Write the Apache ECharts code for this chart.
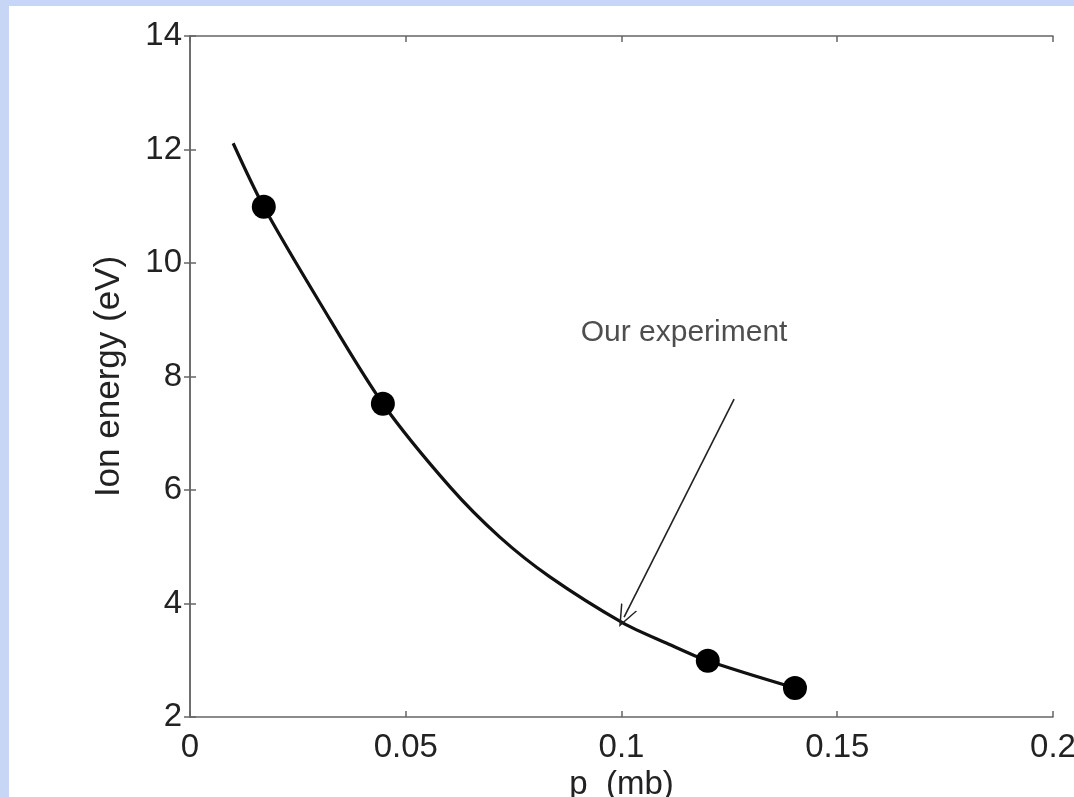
<!DOCTYPE html>
<html>
<head>
<meta charset="utf-8">
<title>Ion energy vs pressure</title>
<script src="https://cdn.jsdelivr.net/npm/echarts@6/dist/echarts.min.js"></script>
<style>
  html, body { margin: 0; padding: 0; }
  #main { width: 1074px; height: 797px; }
</style>
</head>
<body>
<div id="main"></div>
<script>
// measured points (p in mb, ion energy in eV)
var pointP = [0.0171, 0.0447, 0.1200, 0.1402];
var pointE = [10.99, 7.52, 2.99, 2.51];

// fitted curve
var curveP = [0.0100, 0.0171, 0.0301, 0.0447, 0.0603, 0.0718, 0.0834, 0.1003, 0.1105, 0.1200, 0.1402];
var curveE = [12.11, 10.99, 9.30, 7.52, 6.05, 5.17, 4.47, 3.66, 3.30, 2.99, 2.51];

// annotation
var noteText = 'Our experiment';
var noteAt = [0.1145, 8.77];
var arrowFrom = [0.1261, 7.60];
var arrowTo = [0.1006, 3.76];

var chart = echarts.init(document.getElementById('main'));

var font = 'Liberation Sans, Arial, Helvetica, sans-serif';
var axisGray = '#666';

function zip(a, b) {
  return a.map(function (v, i) { return [v, b[i]]; });
}

function mirrorAxis(type, pos) {
  return {
    type: 'value',
    position: pos,
    min: type === 'x' ? 0 : 2,
    max: type === 'x' ? 0.2 : 14,
    interval: type === 'x' ? 0.05 : 2,
    axisLine: { show: true, lineStyle: { color: axisGray, width: 1.5 } },
    axisTick: { show: true, inside: true, length: 6, lineStyle: { color: axisGray, width: 1.5 } },
    axisLabel: { show: false },
    splitLine: { show: false }
  };
}

var option = {
  backgroundColor: '#c6d6f4',
  animation: false,
  graphic: [{
    type: 'rect',
    z: -10,
    shape: { x: 9, y: 6, width: 1074, height: 797 },
    style: { fill: '#ffffff' }
  }],
  grid: { left: 190, top: 36, right: 21, bottom: 80, outerBoundsMode: 'none' },
  xAxis: [{
    type: 'value',
    position: 'bottom',
    min: 0,
    max: 0.2,
    interval: 0.05,
    name: 'p  (mb)',
    nameLocation: 'middle',
    nameGap: 44,
    nameTextStyle: { fontFamily: font, fontSize: 33, color: '#222' },
    axisLine: { show: true, lineStyle: { color: axisGray, width: 1.5 } },
    axisTick: { show: true, inside: true, length: 6, lineStyle: { color: axisGray, width: 1.5 } },
    axisLabel: {
      margin: 14,
      fontFamily: font,
      fontSize: 33,
      color: '#222',
      formatter: function (v) { return String(+v.toFixed(2)); }
    },
    splitLine: { show: false }
  }, mirrorAxis('x', 'top')],
  yAxis: [{
    type: 'value',
    position: 'left',
    min: 2,
    max: 14,
    interval: 2,
    name: 'Ion energy (eV)',
    nameLocation: 'middle',
    nameGap: 63,
    nameTextStyle: { fontFamily: font, fontSize: 35, color: '#222' },
    axisLine: { show: true, lineStyle: { color: axisGray, width: 1.5 } },
    axisTick: { show: true, inside: true, length: 6, lineStyle: { color: axisGray, width: 1.5 } },
    axisLabel: { margin: 8, fontFamily: font, fontSize: 33, color: '#222' },
    splitLine: { show: false }
  }, mirrorAxis('y', 'right')],
  series: [{
    type: 'line',
    data: zip(curveP, curveE),
    smooth: 0.3,
    showSymbol: false,
    lineStyle: { color: '#111', width: 3.2 },
    markLine: {
      silent: true,
      symbol: ['none', 'path://M5,0 L10,10 L9.1,10 L5,1.8 L0.9,10 L0,10 Z'],
      symbolSize: [18, 22],
      label: { show: false },
      lineStyle: { color: '#222', width: 1.6, type: 'solid' },
      data: [[{ coord: arrowFrom }, { coord: arrowTo }]]
    }
  }, {
    type: 'scatter',
    data: zip(pointP, pointE),
    symbol: 'circle',
    symbolSize: 24,
    itemStyle: { color: '#000', opacity: 1 },
    z: 5
  }, {
    type: 'scatter',
    data: [noteAt],
    symbolSize: 0,
    silent: true,
    label: {
      show: true,
      formatter: noteText,
      position: 'inside',
      fontFamily: font,
      fontSize: 30,
      color: '#222',
      textBorderWidth: 0
    }
  }]
};

chart.setOption(option);
</script>
</body>
</html>
